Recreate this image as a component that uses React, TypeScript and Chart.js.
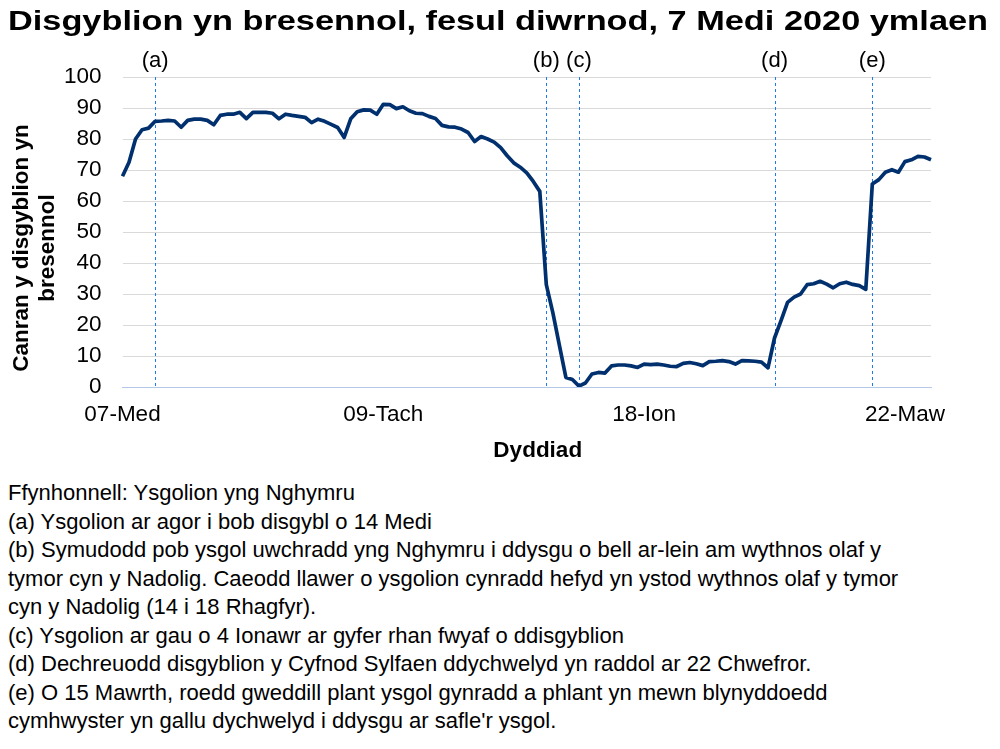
import { useEffect, useRef } from 'react';

import { Chart, registerables } from 'chart.js';
Chart.register(...registerables);

const FONT = 'Arial, "Liberation Sans", sans-serif';

const TITLE = 'Disgyblion yn bresennol, fesul diwrnod, 7 Medi 2020 ymlaen';

const MONTHS = ['Ion', 'Chwef', 'Maw', 'Ebr', 'Mai', 'Meh', 'Gorff', 'Awst', 'Med', 'Hyd', 'Tach', 'Rhag'];

// school weeks only (half terms and Christmas left out)
const TERMS: [string, string][] = [
  ['2020-09-07', '2020-10-23'],
  ['2020-11-02', '2020-12-18'],
  ['2021-01-04', '2021-02-12'],
  ['2021-02-22', '2021-03-26'],
];

// % of pupils present, one value per school day
const autumn1 = [68, 72.5, 80, 83, 83.5, 85.7, 85.8, 86, 85.8, 83.8, 86, 86.4, 86.4, 86, 84.6, 87.6, 88, 88, 88.6, 86.6,
  88.6, 88.6, 88.6, 88.3, 86.5, 88, 87.6, 87.3, 87, 85.3, 86.4, 85.7, 84.7, 83.7, 80.5];
const autumn2 = [86.5, 88.8, 89.4, 89.3, 88, 91.2, 91.1, 89.8, 90.4, 89.1, 88.3, 88.2, 87.3, 86.6, 84.4, 83.9, 83.8, 83.2,
  82.1, 79.2, 80.8, 80, 79, 77.2, 74.6, 72.3, 70.9, 69.1, 66.3, 63.1, 33, 24, 13.5, 3.1, 2.4];
const spring1 = [0.3, 1.3, 4.2, 4.7, 4.5, 6.8, 7.1, 7.1, 6.8, 6.3, 7.4, 7.2, 7.4, 7.1, 6.7, 6.6, 7.6, 7.9, 7.5, 6.9,
  8.2, 8.3, 8.5, 8.2, 7.4, 8.5, 8.4, 8.3, 8, 6.2];
const spring2 = [15.8, 21.4, 27.3, 29, 30, 33, 33.3, 34.1, 33.2, 32, 33.3, 33.8, 33.1, 32.7, 31.5, 65.5, 66.9, 69.3, 70.1,
  69.3, 72.7, 73.3, 74.4, 74.2, 73.3];

const TICK_LABELS = ['07-Med', '09-Tach', '18-Ion', '22-Maw'];

const NOTE_DATES = ['14-Med', '14-Rhag', '04-Ion', '22-Chwef', '15-Maw'];
const NOTE_TAGS = ['(a)', '(b)', '(c)', '(d)', '(e)'];

const FOOTNOTES = [
  'Ffynhonnell: Ysgolion yng Nghymru',
  '(a) Ysgolion ar agor i bob disgybl o 14 Medi',
  '(b) Symudodd pob ysgol uwchradd yng Nghymru i ddysgu o bell ar-lein am wythnos olaf y',
  'tymor cyn y Nadolig. Caeodd llawer o ysgolion cynradd hefyd yn ystod wythnos olaf y tymor',
  'cyn y Nadolig (14 i 18 Rhagfyr).',
  '(c) Ysgolion ar gau o 4 Ionawr ar gyfer rhan fwyaf o ddisgyblion',
  '(d) Dechreuodd disgyblion y Cyfnod Sylfaen ddychwelyd yn raddol ar 22 Chwefror.',
  '(e) O 15 Mawrth, roedd gweddill plant ysgol gynradd a phlant yn mewn blynyddoedd',
  "cymhwyster yn gallu dychwelyd i ddysgu ar safle'r ysgol.",
];

function schoolDays(): string[] {
  const out: string[] = [];
  TERMS.forEach(([from, to]) => {
    const d = new Date(from + 'T00:00:00Z');
    const end = new Date(to + 'T00:00:00Z');
    while (d <= end) {
      const wd = d.getUTCDay();
      if (wd !== 0 && wd !== 6) {
        out.push(String(d.getUTCDate()).padStart(2, '0') + '-' + MONTHS[d.getUTCMonth()]);
      }
      d.setUTCDate(d.getUTCDate() + 1);
    }
  });
  return out;
}

const labels = schoolDays();
const attendance = [...autumn1, ...autumn2, ...spring1, ...spring2];

const notesPlugin = {
  id: 'notes',
  beforeDatasetsDraw(chart: Chart) {
    const { ctx, chartArea, scales } = chart;
    ctx.save();
    ctx.strokeStyle = '#1f78f0';
    ctx.lineWidth = 1;
    ctx.setLineDash([3, 3]);
    NOTE_DATES.forEach(d => {
      const x = Math.round(scales.x.getPixelForValue(labels.indexOf(d))) + 0.5;
      ctx.beginPath();
      ctx.moveTo(x, chartArea.top);
      ctx.lineTo(x, chartArea.bottom);
      ctx.stroke();
    });
    ctx.restore();
  },
  afterDraw(chart: Chart) {
    const { ctx, chartArea, scales } = chart;
    ctx.save();
    ctx.fillStyle = '#000';

    // title is drawn wide, like the Excel original
    ctx.save();
    ctx.font = 'bold 28.5px ' + FONT;
    ctx.textAlign = 'left';
    ctx.textBaseline = 'alphabetic';
    const w = ctx.measureText(TITLE).width;
    ctx.translate(8, 29.5);
    ctx.scale(980 / w, 1);
    ctx.fillText(TITLE, 0, 0);
    ctx.restore();

    ctx.textAlign = 'center';
    ctx.textBaseline = 'middle';
    ctx.font = '22px ' + FONT;
    NOTE_DATES.forEach((d, i) => {
      const x = scales.x.getPixelForValue(labels.indexOf(d));
      ctx.fillText(NOTE_TAGS[i], x, chartArea.top - 16);
    });

    // axis titles (Excel centres them a little off the plot area)
    ctx.font = 'bold 22.5px ' + FONT;
    ctx.fillText('Dyddiad', (chartArea.left + chartArea.right) / 2 + 11, chartArea.bottom + 64);
    ctx.translate(22, (chartArea.top + chartArea.bottom) / 2 + 16);
    ctx.rotate(-Math.PI / 2);
    ctx.fillText('Canran y disgyblion yn', 0, 0);
    ctx.fillText('bresennol', 0, 26);
    ctx.restore();
  },
};

function AttendanceChart() {
  const canvasRef = useRef<HTMLCanvasElement>(null);
  const chartRef = useRef<Chart | null>(null);

  useEffect(() => {
    if (!canvasRef.current) return;
    if (chartRef.current) chartRef.current.destroy();

    Chart.defaults.font.family = FONT;
    Chart.defaults.color = '#000';

    chartRef.current = new Chart(canvasRef.current, {
      type: 'line',
      data: {
        labels: labels,
        datasets: [{
          data: attendance,
          borderColor: '#00306e',
          borderWidth: 3.7,
          pointRadius: 0,
          tension: 0,
          borderJoinStyle: 'round',
        }]
      },
      options: {
        animation: false,
        responsive: true,
        maintainAspectRatio: false,
        layout: {
          padding: { left: 9, right: 69, top: 77, bottom: 0 },
        },
        plugins: {
          legend: { display: false },
          tooltip: { enabled: false },
          title: { display: false },
        },
        scales: {
          x: {
            type: 'category',
            grid: { display: false },
            border: { color: '#b4c8ea', width: 1 },
            ticks: {
              autoSkip: false,
              maxRotation: 0,
              padding: 6,
              font: { size: 22.5 },
              callback: function (value) {
                const lab = this.getLabelForValue(value as number);
                return TICK_LABELS.includes(lab) ? lab : '';
              },
            },
            afterFit: (scale) => { scale.height = 80; },
          },
          y: {
            min: 0,
            max: 100,
            grid: { color: '#d9d9d9', drawTicks: false },
            border: { display: false },
            ticks: {
              stepSize: 10,
              padding: 21,
              font: { size: 22.5 },
            },
            afterFit: (scale) => { scale.width = 113.5; },
          },
        },
      },
      plugins: [notesPlugin],
    });

    return () => {
      if (chartRef.current) {
        chartRef.current.destroy();
        chartRef.current = null;
      }
    };
  }, []);

  return (
    <div style={{ position: 'relative', width: 1000, height: 467 }}>
      <canvas ref={canvasRef} />
    </div>
  );
}

export default function App() {
  useEffect(() => {
    document.body.style.margin = '0';
  }, []);

  return (
    <div style={{ width: 1000, height: 749, background: '#fff', fontFamily: FONT, color: '#000' }}>
      <AttendanceChart />
      <div style={{ paddingLeft: 8, paddingTop: 12, fontSize: 22, lineHeight: '28.5px', whiteSpace: 'nowrap' }}>
        {FOOTNOTES.map((line, i) => <div key={i}>{line}</div>)}
      </div>
    </div>
  );
}
